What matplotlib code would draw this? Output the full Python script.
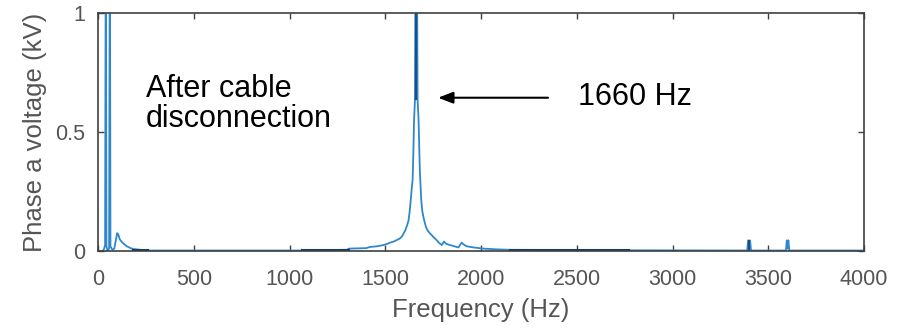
import numpy as np
import matplotlib.pyplot as plt

plt.rcParams['font.family'] = ['Liberation Sans', 'DejaVu Sans']

# spectrum of phase a voltage after cable disconnection (Hz, kV)
freq = [0, 25, 32, 37, 41, 44, 50, 58, 62, 65, 75, 85, 92, 100, 106, 113, 122,
        135, 150, 170, 185, 260, 1060, 1300, 1310, 1400, 1420, 1460, 1490,
        1510, 1525, 1545, 1560, 1575, 1586, 1597, 1605, 1615, 1622, 1628,
        1633, 1638, 1643, 1647, 1650, 1655, 1659, 1662, 1665, 1669, 1674,
        1678, 1681, 1688, 1693, 1699, 1706, 1713, 1722, 1734, 1750, 1768,
        1780, 1795, 1807, 1818, 1838, 1860, 1882, 1899, 1910, 1925, 1960,
        2012, 2080, 2150, 2770, 3390, 3395, 3400, 3405, 3410, 3592, 3597,
        3601, 3605, 3610, 4000]
volt = [0, 0, 0.01, 0.025, 1.5, 0.02, 0.0, 0.01, 1.5, 0.02, 0.005, 0.01, 0.04,
        0.075, 0.07, 0.05, 0.04, 0.03, 0.02, 0.012, 0.008, 0.002, 0.002,
        0.005, 0.01, 0.012, 0.017, 0.02, 0.025, 0.03, 0.035, 0.04, 0.046,
        0.052, 0.06, 0.075, 0.088, 0.11, 0.13, 0.17, 0.214, 0.26, 0.30, 0.42,
        0.54, 0.634, 1.3, 0.8, 1.3, 0.634, 0.55, 0.42, 0.33, 0.214, 0.17,
        0.144, 0.12, 0.10, 0.085, 0.074, 0.06, 0.046, 0.035, 0.025, 0.04,
        0.03, 0.025, 0.02, 0.015, 0.035, 0.027, 0.02, 0.015, 0.01, 0.007,
        0.005, 0.003, 0.002, 0.045, 0.005, 0.045, 0.002, 0.002, 0.045, 0.01,
        0.045, 0.002, 0.002]

# dark baseline pieces (overlapping trace)
dark_freq = [183, 255, np.nan, 1065, 1305, np.nan, 2150, 2770]
dark_volt = [0.004, 0.004, np.nan, 0.004, 0.004, np.nan, 0.004, 0.004]

# dark overlap at the top of the resonance and at 3400 Hz
peak_freq = [1661, 1661, np.nan, 3398, 3398]
peak_volt = [0.64, 1.0, np.nan, 0.005, 0.04]

xticks = [0, 500, 1000, 1500, 2000, 2500, 3000, 3500, 4000]
yticks = [0, 0.5, 1]
ytick_labels = ['0', '0.5', '1']

fig = plt.figure(figsize=(9.12, 3.31), dpi=100)
ax = fig.add_axes([98 / 912, 1 - 251 / 331, (864 - 98) / 912, (251 - 13) / 331])

ax.plot(freq, volt, color='#2f87cc', lw=1.3)
ax.plot(dark_freq, dark_volt, color='#143c66', lw=2.2)
ax.plot(peak_freq, peak_volt, color='#1a4f85', lw=1.5)

ax.set_xlim(0, 4000)
ax.set_ylim(0, 1)
ax.set_xticks(xticks)
ax.set_yticks(yticks)
ax.set_yticklabels(ytick_labels)

grey = '#555555'
ax.tick_params(direction='in', length=4, width=1, top=True, right=True,
               colors='#404040', labelcolor=grey, labelsize=15.5)
ax.tick_params(axis='x', pad=13)
ax.tick_params(axis='y', pad=9)
for s in ax.spines.values():
    s.set_color('#404040')
    s.set_linewidth(1.2)

ax.set_xlabel('Frequency (Hz)', fontsize=18.5, color=grey, labelpad=6)
ax.set_ylabel('Phase a voltage (kV)', fontsize=18.5, color=grey, labelpad=6)

ax.text(251, 0.647, 'After cable', fontsize=22, color='black', va='baseline')
ax.text(251, 0.521, 'disconnection', fontsize=22, color='black', va='baseline')
ax.text(2507, 0.613, '1660 Hz', fontsize=22, color='black', va='baseline')
ax.annotate('', xy=(1776, 0.644), xytext=(2350, 0.644),
            arrowprops=dict(arrowstyle='-|>,head_length=0.9,head_width=0.35',
                            color='black', lw=1.5, shrinkA=0, shrinkB=0))

fig.savefig('out.png', dpi=100)
